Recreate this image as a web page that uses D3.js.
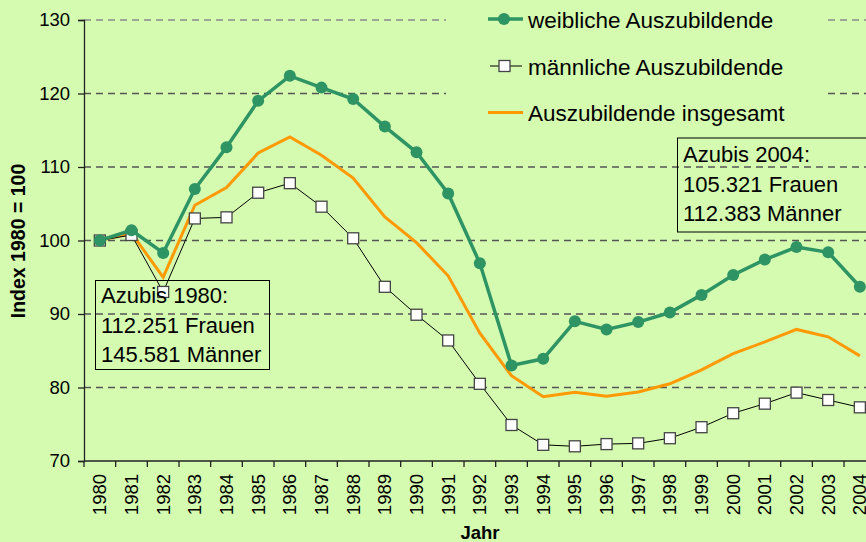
<!DOCTYPE html>
<html>
<head>
<meta charset="utf-8">
<script src="https://cdn.jsdelivr.net/npm/d3@7"></script>
<style>
body { margin: 0; background: #d4fbb0; }
svg { display: block; font-family: "Liberation Sans", Arial, sans-serif; }
</style>
</head>
<body>
<div id="chart"></div>
<script>
var years = d3.range(1980, 2005).map(String);

var weiblich = [100, 101.4, 98.3, 107.0, 112.7, 119.0, 122.4, 120.8, 119.25, 115.5, 112.0, 106.4, 96.9,
    83.0, 83.9, 89.0, 87.9, 88.9, 90.2, 92.6, 95.3, 97.4, 99.1, 98.4, 93.7];
var maennlich = [100, 100.75, 93.0, 103.0, 103.15, 106.5, 107.8, 104.6, 100.3, 93.7, 89.9, 86.4, 80.5,
    74.9, 72.2, 72.0, 72.3, 72.4, 73.1, 74.6, 76.5, 77.8, 79.3, 78.3, 77.3];
var insgesamt = [100, 101.0, 95.0, 104.8, 107.2, 111.9, 114.1, 111.6, 108.5, 103.2, 99.7, 95.2, 87.4,
    81.6, 78.75, 79.35, 78.8, 79.4, 80.5, 82.4, 84.6, 86.2, 87.9, 86.9, 84.3];

var yTicks = [70, 80, 90, 100, 110, 120, 130];
var legendLabels = ["weibliche Auszubildende", "männliche Auszubildende", "Auszubildende insgesamt"];
var note1980 = ["Azubis 1980:", "112.251 Frauen", "145.581 Männer"];
var note2004 = ["Azubis 2004:", "105.321 Frauen", "112.383 Männer"];

var svgWidth = 866;
var svgHeight = 542;
var bg = "#d4fbb0";
var green = "#2e9464";
var orange = "#ff9900";

var svg = d3.select("#chart").append("svg").attr("width", svgWidth).attr("height", svgHeight);
svg.append("rect").attr("width", svgWidth).attr("height", svgHeight).attr("fill", bg);

// scales
var x = d3.scaleBand().domain(years).range([84, 875.7]).padding(0);
var y = d3.scaleLinear().domain([70, 130]).range([461, 20]);
var cx = function(i) { return x(years[i]) + x.bandwidth() / 2; };

// gridlines
svg.append("g").selectAll("line").data(yTicks.slice(1)).join("line")
    .attr("x1", 84).attr("x2", svgWidth)
    .attr("y1", d => y(d)).attr("y2", d => y(d))
    .attr("stroke", d => d === 130 ? "#8a8a8a" : "#555")
    .attr("stroke-width", 1.3)
    .attr("stroke-dasharray", "7,5");

// legend area hides the gridlines behind it
svg.append("rect").attr("x", 446).attr("y", 0).attr("width", 380).attr("height", 135).attr("fill", bg);

// y axis
var yAxis = d3.axisLeft(y).tickValues(yTicks).tickSize(6).tickPadding(8);
var gy = svg.append("g").attr("transform", "translate(84,0)").call(yAxis);
gy.select(".domain").attr("stroke", "#222").attr("stroke-width", 1.3);
gy.selectAll(".tick line").attr("stroke", "#222").attr("stroke-width", 1.3);
gy.selectAll("text").attr("font-size", 18.5).attr("font-family", "Liberation Sans, Arial, sans-serif").attr("fill", "#000");

// x axis: labels centred in each band, ticks on band boundaries
var gx = svg.append("g");
gx.append("line").attr("x1", 84).attr("x2", svgWidth).attr("y1", 461).attr("y2", 461)
    .attr("stroke", "#222").attr("stroke-width", 1.3);
gx.selectAll(".bt").data(years.concat(["end"])).join("line").attr("class", "bt")
    .attr("x1", (d, i) => 84 + i * x.step()).attr("x2", (d, i) => 84 + i * x.step())
    .attr("y1", 461).attr("y2", 467)
    .attr("stroke", "#222").attr("stroke-width", 1.3);
gx.selectAll("text").data(years).join("text")
    .attr("transform", d => `translate(${x(d) + x.bandwidth() / 2},474) rotate(-90)`)
    .attr("dy", "0.35em")
    .attr("text-anchor", "end")
    .attr("font-size", 18.5)
    .text(d => d);

// axis titles
svg.append("text").attr("x", 480).attr("y", 539).attr("text-anchor", "middle")
    .attr("font-size", 18.5).attr("font-weight", "bold").text("Jahr");
svg.append("text").attr("transform", "translate(25,241) rotate(-90)").attr("text-anchor", "middle")
    .attr("font-size", 19.5).attr("font-weight", "bold").text("Index 1980 = 100");

// series
var line = d3.line().x((d, i) => cx(i)).y(d => y(d));

svg.append("path").datum(insgesamt).attr("d", line)
    .attr("fill", "none").attr("stroke", orange).attr("stroke-width", 3);

svg.append("path").datum(maennlich).attr("d", line)
    .attr("fill", "none").attr("stroke", "#000").attr("stroke-width", 1);
svg.append("g").selectAll("rect").data(maennlich).join("rect")
    .attr("x", (d, i) => cx(i) - 5.5).attr("y", d => y(d) - 5.5)
    .attr("width", 11).attr("height", 11)
    .attr("fill", "#fff").attr("stroke", "#444").attr("stroke-width", 1.3);

svg.append("path").datum(weiblich).attr("d", line)
    .attr("fill", "none").attr("stroke", green).attr("stroke-width", 3.5);
svg.append("g").selectAll("circle").data(weiblich).join("circle")
    .attr("cx", (d, i) => cx(i)).attr("cy", d => y(d)).attr("r", 6)
    .attr("fill", green);

// legend
var legendY = [19, 66, 112.5];
var lg = svg.append("g");
lg.append("line").attr("x1", 488).attr("x2", 523).attr("y1", legendY[0]).attr("y2", legendY[0])
    .attr("stroke", green).attr("stroke-width", 3.5);
lg.append("circle").attr("cx", 504).attr("cy", legendY[0]).attr("r", 6).attr("fill", green);
lg.append("line").attr("x1", 490).attr("x2", 522).attr("y1", legendY[1]).attr("y2", legendY[1])
    .attr("stroke", "#000").attr("stroke-width", 1);
lg.append("rect").attr("x", 499).attr("y", legendY[1] - 5.5).attr("width", 11).attr("height", 11)
    .attr("fill", "#fff").attr("stroke", "#444").attr("stroke-width", 1.3);
lg.append("line").attr("x1", 488).attr("x2", 523).attr("y1", legendY[2]).attr("y2", legendY[2])
    .attr("stroke", orange).attr("stroke-width", 3);
lg.selectAll("text").data(legendLabels).join("text")
    .attr("x", 528).attr("y", (d, i) => legendY[i] + 8.5)
    .attr("font-size", 22.5).text(d => d);

// annotation boxes
function note(lines, bx, by, bw, bh, tx, ty) {
    var g = svg.append("g");
    g.append("rect").attr("x", bx).attr("y", by).attr("width", bw).attr("height", bh)
        .attr("fill", "none").attr("stroke", "#000").attr("stroke-width", 1);
    g.selectAll("text").data(lines).join("text")
        .attr("x", tx).attr("y", (d, i) => ty + i * 29.3)
        .attr("font-size", 22).text(d => d);
}
note(note1980, 95.5, 280.5, 174, 89, 101, 303.3);
note(note2004, 677.5, 138, 200, 94, 683, 162.3);
</script>
</body>
</html>
